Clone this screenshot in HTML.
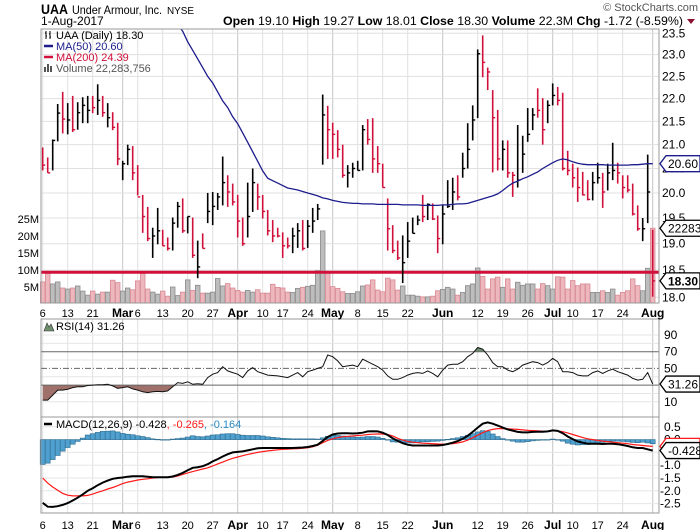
<!DOCTYPE html>
<html><head><meta charset="utf-8">
<style>
html,body{margin:0;padding:0;background:#fff;}
svg{display:block;font-family:"Liberation Sans",sans-serif;}
</style></head>
<body>
<svg id="chart" width="700" height="530" viewBox="0 0 700 530" xmlns="http://www.w3.org/2000/svg">
<rect width="700" height="530" fill="#fff"/>
<g>
<text x="41" y="14" font-size="14" font-weight="bold" fill="#000" textLength="27" lengthAdjust="spacingAndGlyphs">UAA</text>
<text x="72" y="14" font-size="12" fill="#000" textLength="90" lengthAdjust="spacingAndGlyphs">Under Armour, Inc.</text>
<text x="167" y="14" font-size="10" fill="#000" textLength="27" lengthAdjust="spacingAndGlyphs">NYSE</text>
<text x="698" y="11" font-size="11" fill="#555" text-anchor="end">© StockCharts.com</text>
<text x="41" y="25" font-size="12" fill="#000">1-Aug-2017</text>
<text x="223" y="25" font-size="12" fill="#000" textLength="460" lengthAdjust="spacingAndGlyphs"><tspan font-weight="bold">Open</tspan> 19.10 <tspan font-weight="bold">High</tspan> 19.27 <tspan font-weight="bold">Low</tspan> 18.01 <tspan font-weight="bold">Close</tspan> 18.30 <tspan font-weight="bold">Volume</tspan> 22.3M <tspan font-weight="bold">Chg</tspan> -1.72 (-8.59%)</text>
<polygon points="687,19 695,19 691,24" fill="#8b1030"/>
</g>
<g id="grid"></g>
<g id="vol"></g>
<g id="price"></g>
<g id="rsi"></g>
<g id="macd"></g>
<g id="axes"></g>
</svg>
<script>
// ---- data ----
const high = [20.94,20.73,21.11,21.88,22.15,21.9,22.06,21.92,22.03,22.06,22.06,22.32,22.06,21.9,21.7,21.47,20.66,21.0,20.97,20.57,19.96,19.72,19.31,19.7,19.27,19.12,19.51,19.82,19.89,19.53,19.51,19.06,19.2,20.0,20.02,20.0,20.75,20.36,20.19,19.96,19.51,20.21,20.5,20.19,19.96,19.66,19.46,19.31,19.22,19.12,19.31,19.4,19.46,19.46,19.7,19.78,22.09,21.84,21.47,21.31,21.0,20.57,20.62,20.66,21.42,21.55,21.57,20.97,20.6,19.89,19.36,19.06,19.16,19.42,19.51,19.55,19.96,19.79,19.79,19.55,19.75,20.26,20.31,20.36,20.83,21.46,21.85,23.12,23.45,22.7,22.19,21.75,21.09,21.09,20.43,21.42,21.19,21.79,21.79,22.23,22.01,21.96,22.34,22.26,22.13,20.87,20.6,20.52,20.43,20.26,20.43,20.62,20.41,20.6,21.04,20.62,20.36,20.36,20.19,19.75,19.5,20.79,19.27];
const low = [20.46,20.41,20.46,21.07,21.24,21.22,21.27,21.32,21.46,21.46,21.68,21.64,21.6,21.37,21.31,20.57,20.26,20.57,20.26,19.95,19.21,19.05,18.73,18.99,18.96,18.87,18.87,19.31,19.21,19.2,18.73,18.35,18.91,19.4,19.36,19.66,19.75,19.72,19.75,19.12,18.96,19.12,19.62,19.66,19.49,19.16,19.03,19.12,18.73,18.91,18.82,18.92,18.87,18.92,19.21,19.46,20.58,20.7,20.7,20.73,20.31,20.11,20.31,20.46,20.46,21.0,20.41,20.41,20.11,18.87,18.82,18.69,18.26,18.73,19.2,19.36,19.42,19.46,19.46,18.82,18.99,19.7,19.66,19.85,20.31,20.5,21.09,21.57,22.48,22.19,20.42,20.46,20.46,20.31,19.92,20.11,20.41,21.06,21.31,21.58,21.0,21.46,21.85,21.85,20.46,20.36,20.11,19.82,19.95,19.85,19.85,20.19,19.7,20.05,20.26,20.19,19.89,20.01,19.55,19.25,19.05,19.4,18.01];
const close = [20.57,20.41,21.09,21.68,21.55,21.53,21.32,21.69,21.85,21.74,21.8,21.96,21.69,21.58,21.37,20.7,20.6,20.9,20.41,19.92,19.53,19.1,19.15,19.25,18.96,18.91,19.4,19.73,19.25,19.53,18.78,18.56,18.91,19.63,19.73,19.92,20.21,20.02,19.82,19.44,19.0,19.53,20.21,19.92,19.63,19.25,19.15,19.15,18.96,18.96,19.15,19.25,18.91,19.34,19.44,19.68,21.64,21.32,21.22,20.9,20.36,20.41,20.5,20.46,21.32,21.11,20.7,20.6,20.11,19.29,18.87,18.73,18.64,19.05,19.2,19.46,19.53,19.77,19.48,19.1,19.58,19.73,20.02,19.92,20.5,20.9,21.53,23.02,22.82,22.6,21.58,20.7,20.9,20.41,20.36,20.26,20.8,21.22,21.64,21.74,21.32,21.85,22.07,21.96,20.5,20.46,20.31,20.11,19.96,19.87,20.21,20.31,20.02,20.41,20.46,20.41,20.11,20.06,19.58,19.29,19.29,20.02,18.30];
const upDay = [0,0,1,1,0,1,0,1,1,1,0,1,0,1,0,0,1,1,0,0,0,0,1,1,0,0,1,1,0,1,0,1,0,1,1,1,1,0,0,0,0,1,1,0,0,0,0,0,0,0,1,1,0,1,1,1,1,0,0,0,0,1,1,1,1,0,0,0,0,0,0,0,1,1,1,1,0,1,0,0,1,1,1,0,1,1,1,1,0,0,0,0,1,0,0,1,1,1,1,0,0,1,1,0,0,0,0,0,0,0,1,1,0,1,1,0,0,0,0,0,1,1,0];
const volume = [6.5,9,5.9,6.5,4.7,4.4,4.7,5.3,3.8,2.6,3.8,2.9,3.5,3.5,7,6.3,3.8,4.7,4.2,6.8,9,4.4,3.5,2.9,3.8,2.3,5,2.5,3.5,7.1,4,5.5,3.2,3.2,3.5,7.5,5.3,6,4.7,4,3.5,4,3.5,4.2,3.2,3.2,5.8,4.9,4.7,3.5,3.4,4.6,4.9,5.2,5.5,9.8,21.5,9.1,5.1,4.6,3.6,3.1,3.1,3.6,5.3,5.6,7.1,4.1,3.6,7.6,7.1,4.1,5.3,2.6,2.6,2.3,2.1,2.1,2.3,3.9,4.3,4.9,4.4,2.6,3.4,5.4,5.9,10.6,8.1,4.4,7.4,7.9,4.9,7.4,4.4,6.4,5.5,5.9,5.9,4.4,6.0,5.4,4.4,8.0,7.9,4.4,6.9,5.4,5.9,5.9,3.4,3.4,3.9,3.4,4.4,2.6,3.4,3.9,7.4,5.4,3.9,10.5,22.28];
const ma50 = [26.9,26.8,26.7,26.6,26.5,26.4,26.3,26.2,26.1,26.0,25.9,25.8,25.6,25.5,25.4,25.3,25.2,25.0,24.9,24.8,24.7,24.5,24.4,24.3,24.1,24.0,23.9,23.7,23.55,23.3,23.1,22.9,22.7,22.5,22.35,22.15,21.95,21.8,21.6,21.45,21.25,21.05,20.85,20.65,20.45,20.3,20.25,20.2,20.15,20.1,20.08,20.06,20.03,20.0,19.97,19.94,19.9,19.88,19.85,19.83,19.81,19.8,19.79,19.79,19.78,19.78,19.78,19.77,19.77,19.77,19.77,19.77,19.76,19.76,19.76,19.76,19.75,19.75,19.75,19.75,19.76,19.76,19.77,19.78,19.78,19.79,19.82,19.85,19.88,19.91,19.94,19.98,20.05,20.13,20.2,20.24,20.29,20.33,20.38,20.43,20.5,20.56,20.62,20.67,20.7,20.68,20.64,20.61,20.59,20.58,20.58,20.58,20.58,20.57,20.57,20.57,20.57,20.57,20.58,20.58,20.59,20.6,20.6];
const rsi = [12,12,18,24,24,25,27,28,28,29.5,30,30.5,30.5,31,29,26,27,28,25.5,24,22,21,22,22.5,22,23,28,33,32,34,31,31.5,31,39,43,45,52,47,45,43,39,47,51,46,44,42,41.5,41,40,39,42,45,40,46,48,50,52,66,64,59,52,53,54,52,61,58,55,52,48,41,37,37,39,42,44,45,44,47,44,40,48,54,55,55,58,64,68,75,73,66,57,52,52,48,46,49,54,56,58,57,54,57,62,58,46,46,45,42,41,41,45,47,44,47,49,46,44,42,38,36,37,45,31.26];
const macdLine = [-2.47,-2.62,-2.63,-2.6,-2.55,-2.48,-2.38,-2.27,-2.14,-2.0,-1.9,-1.78,-1.68,-1.6,-1.53,-1.5,-1.48,-1.45,-1.43,-1.43,-1.43,-1.45,-1.47,-1.47,-1.47,-1.47,-1.44,-1.38,-1.3,-1.2,-1.1,-1.08,-1.04,-0.96,-0.85,-0.76,-0.66,-0.57,-0.5,-0.48,-0.46,-0.42,-0.38,-0.34,-0.33,-0.33,-0.33,-0.33,-0.33,-0.33,-0.33,-0.32,-0.31,-0.29,-0.25,-0.2,-0.05,0.1,0.2,0.24,0.25,0.25,0.24,0.25,0.27,0.32,0.33,0.32,0.27,0.18,0.05,-0.05,-0.14,-0.2,-0.23,-0.23,-0.23,-0.23,-0.23,-0.23,-0.21,-0.17,-0.12,-0.06,0.03,0.15,0.3,0.47,0.62,0.67,0.62,0.55,0.47,0.4,0.35,0.3,0.28,0.28,0.3,0.31,0.31,0.32,0.36,0.34,0.25,0.12,0.02,-0.07,-0.12,-0.16,-0.16,-0.16,-0.17,-0.16,-0.16,-0.18,-0.21,-0.25,-0.3,-0.33,-0.33,-0.38,-0.428];
const signalLine = [-1.5,-1.7,-1.85,-1.98,-2.1,-2.17,-2.2,-2.2,-2.2,-2.18,-2.13,-2.06,-2.0,-1.93,-1.87,-1.8,-1.72,-1.66,-1.62,-1.58,-1.55,-1.53,-1.5,-1.48,-1.47,-1.47,-1.46,-1.42,-1.36,-1.3,-1.25,-1.2,-1.15,-1.1,-1.03,-0.95,-0.88,-0.8,-0.73,-0.68,-0.63,-0.58,-0.54,-0.5,-0.47,-0.44,-0.42,-0.4,-0.38,-0.37,-0.36,-0.35,-0.34,-0.32,-0.28,-0.22,-0.12,-0.03,0.03,0.08,0.11,0.13,0.14,0.16,0.17,0.2,0.21,0.22,0.22,0.2,0.14,0.05,-0.02,-0.07,-0.1,-0.12,-0.14,-0.15,-0.16,-0.17,-0.18,-0.18,-0.16,-0.13,-0.09,-0.02,0.07,0.17,0.27,0.35,0.4,0.43,0.43,0.42,0.41,0.4,0.38,0.36,0.35,0.34,0.33,0.33,0.34,0.34,0.31,0.26,0.2,0.14,0.08,0.03,0.0,-0.03,-0.06,-0.08,-0.1,-0.12,-0.14,-0.16,-0.19,-0.21,-0.23,-0.25,-0.265];
const dateIdx = [0,5,10,16,19,24,29,34,39,44,48,53,58,63,68,73,80,87,92,97,102,106,111,116,122];
const dateText = ['6','13','21','Mar','6','13','20','27','Apr','10','17','24','May','8','15','22','Jun','12','19','26','Jul','10','17','24','Aug'];
const priceTicks = [18.0,18.5,19.0,19.5,20.0,20.5,21.0,21.5,22.0,22.5,23.0,23.5];
const volTicks = [5,10,15,20,25];
const rsiTicks = [90,70,50,10];
const macdTicks = [0.5,0.0,-1.0,-1.5,-2.0,-2.5];

// ---- scales ----
const L=41, R=659, PT=29, PB=303, RT=319, RB=417, MT=417, MB=513;
const xb = i => 42.7 + 5.0*i;
const yp = p => 33.3 + 990*Math.log(23.5/p);
const yv = v => 304 - v*3.4;
const yr = v => 351.7 + (70-v)*0.835;
const ym = v => 439.6 - v*25.6;
const NS='http://www.w3.org/2000/svg';
function mk(parent, tag, attrs, text){
  const e=document.createElementNS(NS,tag);
  for(const k in attrs) e.setAttribute(k,attrs[k]);
  if(text!==undefined) e.textContent=text;
  document.getElementById(parent).appendChild(e);
  return e;
}
const N = close.length;
const RED='#d0103a';

// ---- grid & frames ----
[[PT,PB],[RT,RB],[MT,MB]].forEach(([t,b],k)=>{
  dateIdx.forEach((di,j)=>{
    const month = isNaN(+dateText[j]);
    const g=mk('grid','line',{x1:xb(di),x2:xb(di),y1:t,y2:b,stroke:month?'#c4c4c4':'#e0e0e0','stroke-width':1});
    
    
  });
});
priceTicks.forEach(p=>{
  const g=mk('grid','line',{x1:L,x2:R,y1:yp(p),y2:yp(p),stroke:'#e0e0e0'});
  
  
});
[90,80,60,40,20,10].forEach(v=>{
  const g=mk('grid','line',{x1:L,x2:R,y1:yr(v),y2:yr(v),stroke:'#e6e6e6'});
  
  
});
[0.5,-0.5,-1.0,-1.5,-2.0,-2.5].forEach(v=>{
  const g=mk('grid','line',{x1:L,x2:R,y1:ym(v),y2:ym(v),stroke:'#e6e6e6'});
  
  
});
[[PT,PB,'price-panel-frame'],[RT,RB,'rsi-panel-frame'],[MT,MB,'macd-panel-frame']].forEach(([t,b,n])=>{
  const f=mk('axes','rect',{x:L,y:t,width:R-L,height:b-t,fill:'none',stroke:'#999'});
  
  
});

// ---- volume ----
for(let i=0;i<N;i++){
  const y=yv(volume[i]);
  const b=mk('vol','rect',{x:xb(i)-2.3,y:y,width:4.6,height:PB-y,fill:upDay[i]?'#bdbdbd':'#ecb7bd',stroke:upDay[i]?'#8c8c8c':'#d88a94','stroke-width':0.8});
  
  
}
const hl=mk('price','line',{x1:L,x2:R,y1:yp(18.46),y2:yp(18.46),stroke:RED,'stroke-width':3});



// ---- price bars ----
for(let i=0;i<N;i++){
  const c=upDay[i]?'#000':RED;
  const x=xb(i);
  const v=mk('price','line',{x1:x,x2:x,y1:yp(high[i]),y2:yp(low[i]),stroke:c,'stroke-width':1.6});
  
  
  const t=mk('price','line',{x1:x,x2:x+2.5,y1:yp(close[i]),y2:yp(close[i]),stroke:c,'stroke-width':1.4});
  
  
}
{
  let d='';
  for(let i=0;i<N;i++){ d+=(i?'L':'M')+xb(i).toFixed(1)+' '+yp(ma50[i]).toFixed(1); }
  mk('price','clipPath',{id:'pclip'});
  const cr=document.createElementNS(NS,'rect');
  cr.setAttribute('x',L);cr.setAttribute('y',PT);cr.setAttribute('width',R-L);cr.setAttribute('height',PB-PT);
  document.getElementById('pclip').appendChild(cr);
  const m=mk('price','path',{d:d,fill:'none',stroke:'#1c1c8c','stroke-width':1.3,'clip-path':'url(#pclip)'});
  
  
}

// ---- price legend ----
[['UAA (Daily) 18.30','#000',39,'legend-price'],['MA(50) 20.60','#1c1c8c',50,'legend-ma50'],['MA(200) 24.39',RED,61,'legend-ma200'],['Volume 22,283,756','#555',72,'legend-volume']].forEach(([t,c,y,n],k)=>{
  const tx=mk('axes','text',{x:56,y:y,'font-size':11,fill:c},t);
  
  
  if(k===1||k===2){
    const sw=mk('axes','line',{x1:44,x2:53,y1:y-4,y2:y-4,stroke:c,'stroke-width':2.5});
    
    
  }
});
{
  const i1=mk('axes','path',{d:'M46 31V39M45 33H46M46 36H47M50 31V39M49 34H50M50 37H51',stroke:'#000','stroke-width':1,fill:'none'});
  
  
  const i2=mk('axes','path',{d:'M45 72V67M48 72V64M51 72V66',stroke:'#555','stroke-width':2,fill:'none'});
  
  
}

// ---- price axis ----
priceTicks.forEach(p=>{
  const t=mk('axes','text',{x:662,y:yp(p)+4,'font-size':12,fill:'#000'},p.toFixed(1));
  
  
});
volTicks.forEach(v=>{
  const t=mk('axes','text',{x:39,y:yv(v)+4,'font-size':11,fill:'#000','text-anchor':'end'},v+'M');
  
  
});
function tag(y,text,stroke,bold,name,w){
  const g=mk('axes','polygon',{points:`${R+1},${y} ${R+7},${y-8} ${R+7+w},${y-8} ${R+7+w},${y+8} ${R+7},${y+8}`,fill:'#fff',stroke:stroke,'stroke-width':1.3});
  
  
  const t=mk('axes','text',{x:R+9,y:y+4.5,'font-size':12,'font-weight':bold?'bold':'normal',fill:'#000'},text);
  
  
}
tag(yp(ma50[N-1]),'20.60','#1c1c8c',false,'ma50-value-tag',34);
tag(yv(volume[N-1]),'22283756','#000',false,'volume-value-tag',40);
tag(yp(close[N-1]),'18.30','#000',true,'close-value-tag',34);

// ---- date labels ----
[313,525].forEach(y=>{
  dateIdx.forEach((di,j)=>{
    const month = isNaN(+dateText[j]);
    const t=mk('axes','text',{x:xb(di),y:y+4,'font-size':month?12:11,'font-weight':month?'bold':'normal','text-anchor':'middle',fill:'#000'},dateText[j]);
    
    
  });
});

// ---- RSI ----
{
  mk('rsi','clipPath',{id:'rclipLow'});
  const c1=document.createElementNS(NS,'rect');
  c1.setAttribute('x',L);c1.setAttribute('y',yr(30));c1.setAttribute('width',R-L);c1.setAttribute('height',RB-yr(30));
  document.getElementById('rclipLow').appendChild(c1);
  mk('rsi','clipPath',{id:'rclipHigh'});
  const c2=document.createElementNS(NS,'rect');
  c2.setAttribute('x',L);c2.setAttribute('y',RT);c2.setAttribute('width',R-L);c2.setAttribute('height',yr(70)-RT);
  document.getElementById('rclipHigh').appendChild(c2);
  let pts='';
  for(let i=0;i<N;i++) pts+=(i?'L':'M')+xb(i).toFixed(1)+' '+yr(rsi[i]).toFixed(1);
  const lowFill=mk('rsi','path',{d:pts+`L${xb(N-1)} ${yr(30)}L${xb(0)} ${yr(30)}Z`,fill:'#a0706a','clip-path':'url(#rclipLow)'});
  
  
  const hiFill=mk('rsi','path',{d:pts+`L${xb(N-1)} ${yr(70)}L${xb(0)} ${yr(70)}Z`,fill:'#6f8f6f','clip-path':'url(#rclipHigh)'});
  
  
  [[70,'none','rsi-70-line'],[30,'none','rsi-30-line'],[50,'6 2 1 2','rsi-50-line']].forEach(([v,da,n])=>{
    const l=mk('rsi','line',{x1:L,x2:R,y1:yr(v),y2:yr(v),stroke:'#666','stroke-width':1,'stroke-dasharray':da});
    
    
  });
  const rl=mk('rsi','path',{d:pts,fill:'none',stroke:'#111','stroke-width':1});
  
  
  rsiTicks.forEach(v=>{
    const t=mk('axes','text',{x:664,y:yr(v)+4,'font-size':12,fill:'#000'},String(v));
    
    
  });
  tag(yr(rsi[N-1]),'31.26','#000',false,'rsi-value-tag',34);
  const lg=mk('axes','text',{x:56,y:330,'font-size':11,fill:'#000'},'RSI(14) 31.26');
  
  
  const ic=mk('axes','polygon',{points:'44,331 47,323 49,327 51,324 54,331',fill:'#6f8f6f',stroke:'#333','stroke-width':0.6});
  
  
}

// ---- MACD ----
{
  for(let i=0;i<N;i++){
    const h=macdLine[i]-signalLine[i];
    const y0=ym(0), y1=ym(h);
    const b=mk('macd','rect',{x:xb(i)-2.5,y:Math.min(y0,y1),width:5,height:Math.max(0.5,Math.abs(y1-y0)),fill:'#4f9fcf',stroke:'#2b6a8c','stroke-width':0.6});
    
    
  }
  let ds='',dm='';
  for(let i=0;i<N;i++){
    ds+=(i?'L':'M')+xb(i).toFixed(1)+' '+ym(signalLine[i]).toFixed(1);
    dm+=(i?'L':'M')+xb(i).toFixed(1)+' '+ym(macdLine[i]).toFixed(1);
  }
  const s=mk('macd','path',{d:ds,fill:'none',stroke:'#ff1a1a','stroke-width':1.2});
  
  
  const m=mk('macd','path',{d:dm,fill:'none',stroke:'#000','stroke-width':2});
  
  
  macdTicks.forEach(v=>{
    const t=mk('axes','text',{x:v<0?660:664,y:ym(v)+4,'font-size':12,fill:'#000'},v.toFixed(1));
    
    
  });
  tag(ym(signalLine[N-1]),'-0.265','#ff1a1a',false,'macd-signal-tag',34);
  tag(ym(macdLine[N-1]),'-0.428','#000',false,'macd-value-tag',34);
  const lg=mk('axes','text',{x:56,y:428,'font-size':11,fill:'#000'});
  lg.innerHTML='MACD(12,26,9) -0.428<tspan fill="#ff1a1a">, -0.265</tspan><tspan fill="#2a8ac0">, -0.164</tspan>';
  
  
  const sw=mk('axes','line',{x1:44,x2:52,y1:424,y2:424,stroke:'#000','stroke-width':2.5});
  
  
}
</script>
</body></html>
